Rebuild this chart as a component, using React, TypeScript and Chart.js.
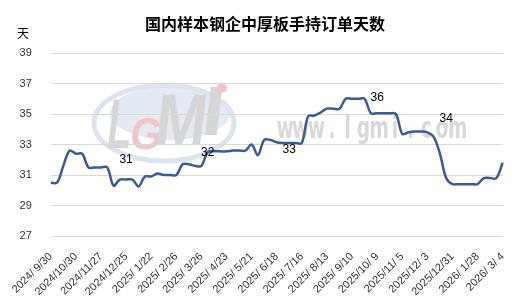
import { useEffect, useRef } from 'react';
import { Chart, registerables } from 'chart.js';
Chart.register(...registerables);

const categories = [
  '2024/ 9/30', '2024/10/10', '2024/10/16', '2024/10/23', '2024/10/30', '2024/11/ 6', '2024/11/13', '2024/11/20', '2024/11/27',
  '2024/12/ 4', '2024/12/11', '2024/12/18', '2024/12/25', '2025/ 1/ 2', '2025/ 1/ 8', '2025/ 1/15', '2025/ 1/22',
  '2025/ 2/ 5', '2025/ 2/12', '2025/ 2/19', '2025/ 2/26', '2025/ 3/ 5', '2025/ 3/12', '2025/ 3/19', '2025/ 3/26',
  '2025/ 4/ 2', '2025/ 4/ 9', '2025/ 4/16', '2025/ 4/23', '2025/ 4/30', '2025/ 5/ 7', '2025/ 5/14', '2025/ 5/21',
  '2025/ 5/28', '2025/ 6/ 4', '2025/ 6/11', '2025/ 6/18', '2025/ 6/25', '2025/ 7/ 2', '2025/ 7/ 9', '2025/ 7/16',
  '2025/ 7/23', '2025/ 7/30', '2025/ 8/ 6', '2025/ 8/13', '2025/ 8/20', '2025/ 8/27', '2025/ 9/ 3', '2025/ 9/10',
  '2025/ 9/17', '2025/ 9/24', '2025/ 9/30', '2025/10/ 9', '2025/10/15', '2025/10/22', '2025/10/29', '2025/11/ 5',
  '2025/11/12', '2025/11/19', '2025/11/26', '2025/12/ 3', '2025/12/10', '2025/12/17', '2025/12/24', '2025/12/31',
  '2026/ 1/ 7', '2026/ 1/14', '2026/ 1/21', '2026/ 1/28', '2026/ 2/ 4', '2026/ 2/11', '2026/ 2/25', '2026/ 3/ 4',
];

const orderDays = [
  30.5, 30.5, 31.6, 32.6, 32.4, 32.4, 31.5, 31.5, 31.5, 31.5, 30.3, 30.7, 30.7, 30.7, 30.25, 30.9, 30.9,
  31.1, 31.0, 31.0, 31.0, 31.7, 31.7, 31.6, 31.6, 32.5, 32.55, 32.55, 32.55, 32.6, 32.6, 32.6, 33.0,
  32.3, 33.3, 33.3, 33.15, 33.1, 33.1, 33.1, 33.1, 34.85, 34.9, 35.1, 35.35, 35.35, 35.35, 36.0, 36.0,
  36.0, 36.0, 35.05, 35.05, 35.05, 35.05, 35.0, 33.7, 33.8, 33.85, 33.85, 33.8, 33.5, 32.4, 30.8, 30.4,
  30.4, 30.4, 30.4, 30.4, 30.8, 30.8, 30.8, 31.8,
];

const yTicks = [27, 29, 31, 33, 35, 37, 39];

const noteIndex = [12, 25, 38, 52, 63];
const noteValue = [32.0, 32.45, 32.67, 36.1, 34.7];
const noteText = ['31', '32', '33', '36', '34'];

const titleText = '国内样本钢企中厚板手持订单天数';
const unitText = '天';

function boxLetter(ctx: CanvasRenderingContext2D, ch: string, x0: number, y0: number, x1: number, y1: number, color: string) {
  const F = 60;
  ctx.save();
  ctx.font = `bold ${F}px "Liberation Sans"`;
  ctx.textAlign = 'left';
  ctx.textBaseline = 'alphabetic';
  const m = ctx.measureText(ch);
  const w = m.actualBoundingBoxRight + m.actualBoundingBoxLeft;
  const h = m.actualBoundingBoxAscent + m.actualBoundingBoxDescent;
  ctx.translate(x0, y0);
  ctx.transform(1, 0, -0.12, 1, 0, 0);
  ctx.scale((x1 - x0) / w, (y1 - y0) / h);
  ctx.fillStyle = color;
  ctx.fillText(ch, m.actualBoundingBoxLeft + (y1 - y0) * 0.12 * (w / (x1 - x0)), m.actualBoundingBoxAscent);
  ctx.restore();
}

const watermarkPlugin = {
  id: 'watermark',
  beforeDraw(chart: any) {
    const ctx = chart.ctx as CanvasRenderingContext2D;
    ctx.save();
    ctx.beginPath();
    ctx.ellipse(170, 113, 60, 27, 0, 0, Math.PI * 2);
    ctx.fillStyle = '#e3eaf3';
    ctx.fill();
    ctx.beginPath();
    ctx.ellipse(164, 123, 70, 38, 0, 0, Math.PI * 2);
    ctx.lineWidth = 5;
    ctx.strokeStyle = '#dbe4ef';
    ctx.stroke();
    const gray = '#d6d6d6';
    const pink = '#f2c6c8';
    boxLetter(ctx, 'L', 108, 100, 128, 148, gray);
    boxLetter(ctx, 'G', 130, 118, 158, 150, pink);
    boxLetter(ctx, 'M', 157, 95, 200, 145, gray);
    boxLetter(ctx, 'I', 205, 87, 217, 135, gray);
    ctx.beginPath();
    ctx.arc(222, 88, 5, 0, Math.PI * 2);
    ctx.fillStyle = pink;
    ctx.fill();
    const txt = 'www.lgmi.com';
    ctx.fillStyle = 'rgba(210,210,210,0.85)';
    ctx.font = 'bold 30px "DejaVu Sans"';
    ctx.textAlign = 'center';
    ctx.textBaseline = 'alphabetic';
    for (let k = 0; k < txt.length; k++) {
      const cx = 285 + k * 15.7;
      ctx.save();
      ctx.translate(cx, 138);
      ctx.scale(0.62, 1);
      ctx.fillText(txt[k], 0, 0);
      ctx.restore();
    }
    ctx.restore();
  },
};

const textPlugin = {
  id: 'texts',
  afterDraw(chart: any) {
    const ctx = chart.ctx;
    const xs = chart.scales.x;
    const ys = chart.scales.y;
    ctx.save();
    ctx.fillStyle = '#000';
    ctx.textAlign = 'center';
    ctx.textBaseline = 'middle';
    ctx.font = 'bold 16px "Noto Sans CJK SC"';
    ctx.fillText(titleText, 265, 24);
    ctx.font = '12px "Noto Sans CJK SC"';
    ctx.fillText(unitText, 23, 33);
    ctx.font = '12px "Liberation Sans"';
    for (let k = 0; k < noteText.length; k++) {
      const x = xs.getPixelForValue(noteIndex[k]);
      const y = ys.getPixelForValue(noteValue[k]);
      ctx.fillText(noteText[k], x, y);
    }
    ctx.restore();
  },
};

export default function App() {
  const ref = useRef<HTMLCanvasElement | null>(null);
  useEffect(() => {
    document.body.style.margin = '0';
    const canvas = ref.current!;
    const chart = new Chart(canvas, {
      type: 'line',
      data: {
        labels: categories,
        datasets: [
          {
            data: orderDays,
            borderColor: '#3a5b97',
            borderWidth: 2.5,
            pointRadius: 0,
            tension: 0.35,
            fill: false,
          },
        ],
      },
      options: {
        animation: false,
        responsive: false,
        devicePixelRatio: 1,
        layout: { padding: { top: 53, right: 16, left: 0, bottom: 0 } },
        plugins: { legend: { display: false }, title: { display: false }, tooltip: { enabled: false } },
        scales: {
          x: {
            offset: false,
            grid: { display: false, drawTicks: false },
            border: { display: false },
            ticks: {
              autoSkip: false,
              maxRotation: 45,
              minRotation: 45,
              padding: 14,
              color: '#333',
              font: { family: '"Liberation Sans"', size: 11 },
              callback: (_v: any, i: number) => (i % 4 === 0 ? categories[i] : ''),
            },
            afterFit: (s: any) => {
              s.height = 72;
            },
          },
          y: {
            min: 27,
            max: 39,
            afterBuildTicks: (s: any) => {
              s.ticks = yTicks.map((v) => ({ value: v }));
            },
            grid: { color: '#d9d9d9', drawTicks: false, lineWidth: 1 },
            border: { display: false },
            ticks: {
              padding: 19,
              color: '#333',
              font: { family: '"Liberation Sans"', size: 11 },
            },
            afterFit: (s: any) => {
              s.width = 45;
            },
          },
        },
      },
      plugins: [watermarkPlugin, textPlugin],
    });
    return () => chart.destroy();
  }, []);
  return <canvas ref={ref} width={526} height={308} style={{ display: 'block' }} />;
}
